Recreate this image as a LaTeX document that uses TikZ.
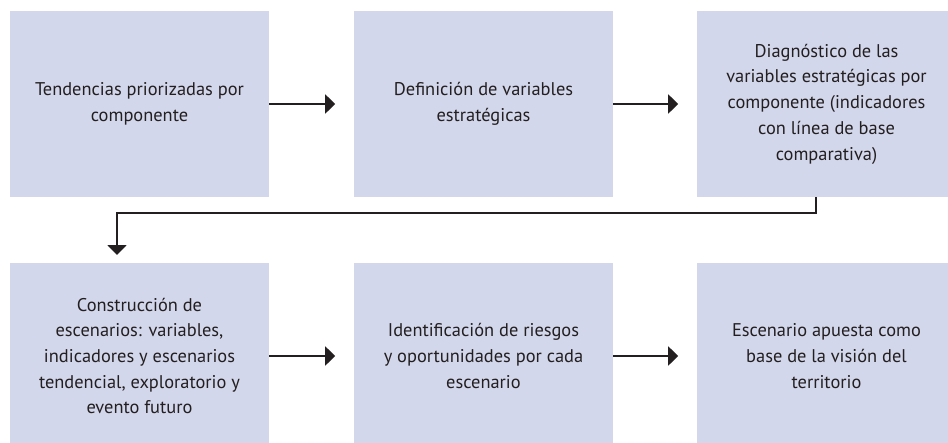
\documentclass[tikz,border=0pt]{standalone}
\usepackage{fontspec}
\setmainfont{PT Sans}
\usetikzlibrary{arrows.meta}
\definecolor{boxfill}{RGB}{211,215,235}
\definecolor{txt}{RGB}{35,31,32}
\begin{document}
\begin{tikzpicture}[x=1pt,y=-1pt,
  box/.style={fill=boxfill,draw=none,minimum width=259pt,minimum height=186pt,inner sep=0pt,
    align=center,text=txt,font=\fontsize{18.4}{25.7}\selectfont},
  conn/.style={draw=txt,line width=2pt,-{Triangle[length=10pt,width=19pt]}}]
\useasboundingbox (0,0) rectangle (948,442);
\node[box] (b1) at (139.5,104) {Tendencias priorizadas por\\componente};
\node[box] (b2) at (483.5,104) {Definición de variables\\estratégicas};
\node[box] (b3) at (826.5,104) {Diagnóstico de las\\variables estratégicas por\\componente (indicadores\\con línea de base\\comparativa)};
\node[box] (b4) at (139.5,356) {Construcción de\\escenarios: variables,\\indicadores y escenarios\\tendencial, exploratorio y\\evento futuro};
\node[box] (b5) at (483.5,356) {Identificación de riesgos\\y oportunidades por cada\\escenario};
\node[box] (b6) at (826.5,356) {Escenario apuesta como\\base de la visión del\\territorio};
\draw[conn] (b1.east) -- ++(66,0);
\draw[conn] (b2.east) -- ++(65,0);
\draw[conn] (b4.east) -- ++(66,0);
\draw[conn] (b5.east) -- ++(65,0);
\coordinate (c1) at (816,213);
\draw[conn] (b3.south -| c1) -- (c1) -- (117,213) -- (117,255);
\end{tikzpicture}
\end{document}
